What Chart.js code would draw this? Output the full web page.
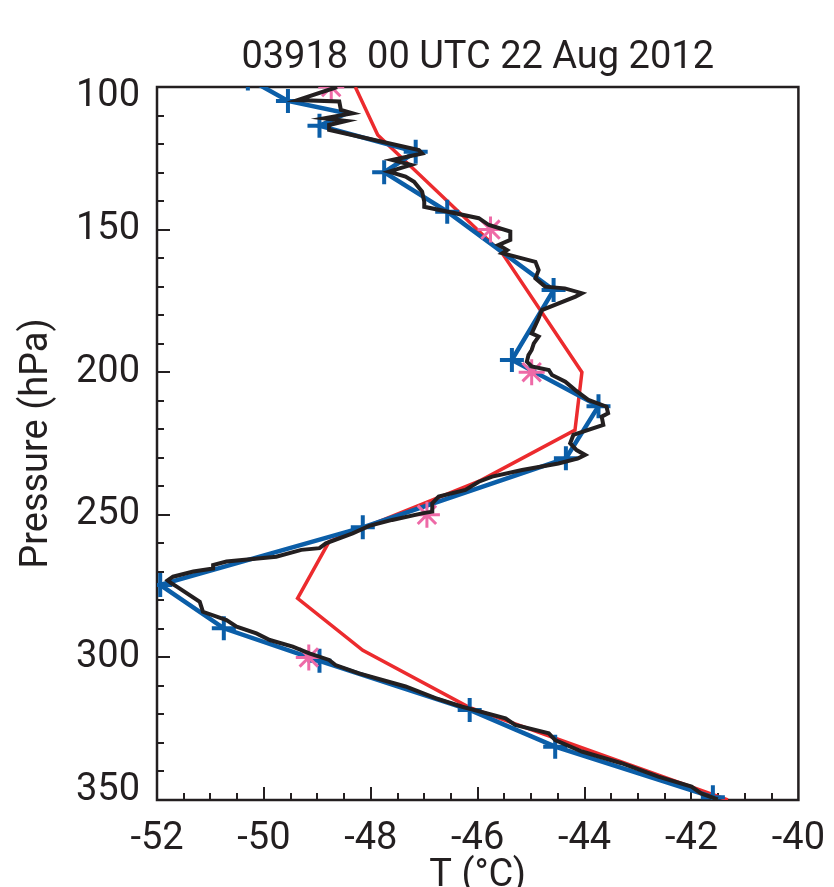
<!DOCTYPE html>
<html><head><meta charset="utf-8">
<script src="https://cdn.jsdelivr.net/npm/chart.js@4.4.0/dist/chart.umd.min.js"></script>
<style>html,body{margin:0;padding:0;background:#fff;overflow:hidden}canvas{display:block}</style>
</head><body>
<canvas id="c" width="834" height="887"></canvas>
<script>
const titleText = '03918  00 UTC 22 Aug 2012';
const xTitle = 'T (°C)';
const yTitle = 'Pressure (hPa)';
const xTicks = [-52, -50, -48, -46, -44, -42, -40];
const yTicks = [100, 150, 200, 250, 300, 350];

// high-resolution observed sounding (black)
const obsP = [100,104.6,105.1,108,109.2,111,111.9,113.3,115,122.1,123.3,125.6,127.3,129.7,131.4,133.2,136.7,140.2,142,146,148.4,150.7,153.6,155.4,157.2,158.3,161.3,164.2,167.1,170,170.6,172.3,173.5,178.2,181.1,186.4,187.5,189.9,192.2,194,196.3,198,199.2,201,203.3,206.2,209.7,212.1,214.4,215.6,218.5,222,224.9,227.3,229,230.2,232,234.3,236.6,238.4,241.3,243.6,246,248.9,249.5,251.8,253.9,256.5,260,261.7,262.3,264.7,266.4,267.6,268.8,269.9,271.7,273,274,275.2,280.5,284,286.9,289.2,291.6,293.9,296.2,298.6,300.9,302.7,305.6,310.2,314.3,317.3,321.4,323.7,326.6,329,333,337.1,341.8,345.3,347.7,349.8];
const obsT = [-48.63,-49.37,-48.59,-48.56,-48.34,-48.87,-48.46,-48.78,-48.78,-47.10,-47.04,-47.60,-47.25,-47.66,-47.35,-47.19,-47.04,-47.00,-47.0,-45.98,-45.79,-45.39,-45.39,-45.61,-45.45,-45.54,-44.92,-44.86,-44.92,-44.74,-44.37,-44.05,-44.17,-44.80,-44.86,-44.99,-44.86,-44.95,-44.99,-45.05,-45.08,-44.99,-44.67,-44.61,-44.36,-44.18,-43.93,-43.59,-43.56,-43.68,-43.65,-44.21,-44.27,-44.15,-43.99,-44.12,-44.49,-45.17,-45.73,-45.98,-46.23,-46.73,-46.85,-46.85,-47.04,-47.60,-48.03,-48.34,-48.84,-48.96,-49.3,-49.77,-50.70,-50.95,-50.95,-51.32,-51.70,-51.80,-51.73,-51.63,-51.20,-51.14,-50.70,-50.51,-50.14,-49.89,-49.46,-49.15,-48.78,-48.66,-48.22,-47.35,-46.79,-46.29,-45.48,-45.30,-44.67,-44.55,-44.05,-43.31,-42.62,-42.00,-41.82,-41.51];

// significant levels (blue +)
const sigP = [97,104.9,109.2,113.6,122.7,129.9,143.7,171.2,195.7,211.9,230.2,254.4,274.6,289.8,301.2,318.4,331.3,349];
const sigT = [-50.3,-49.55,-48.45,-48.96,-47.16,-47.75,-46.57,-44.58,-45.36,-43.74,-44.35,-48.15,-51.94,-50.75,-48.96,-46.15,-44.55,-41.6];
const sigUnmarked = [2];

// standard levels (pink *)
const stdP = [100, 150, 200, 250, 300];
const stdT = [-48.74, -45.76, -44.99, -46.95, -49.16];

// model profile (red)
const modP = [100,116.8,158.3,200,220.3,238,259.4,279.3,297.5,317.5,350];
const modT = [-48.29,-47.87,-45.54,-44.05,-44.18,-45.95,-48.78,-49.37,-48.15,-46.16,-41.32];

const pts = (P, T) => P.map((p, i) => ({x: T[i], y: p}));
const INK = '#231F20';
const FONT = 'Roboto';

const frameTicks = {
  id: 'frameTicks',
  beforeDatasetsDraw(chart) {
    const {ctx, chartArea: a, scales: {x, y}} = chart;
    ctx.save();
    ctx.strokeStyle = INK;
    ctx.lineWidth = 2;
    ctx.beginPath();
    for (let v = -51.5; v < -40; v += 0.5) {
      const px = Math.round(x.getPixelForValue(v));
      const len = (Math.abs(v % 2) < 1e-6) ? 13 : 7;
      ctx.moveTo(px, a.bottom); ctx.lineTo(px, a.bottom - len);
    }
    for (let v = 110; v < 350; v += 10) {
      const py = Math.round(y.getPixelForValue(v));
      const len = (v % 50 === 0) ? 13 : 7;
      ctx.moveTo(a.left, py); ctx.lineTo(a.left + len, py);
    }
    ctx.stroke();
    ctx.lineWidth = 2.5;
    ctx.strokeRect(a.left, a.top, a.right - a.left, a.bottom - a.top);
    ctx.restore();
  }
};

new Chart(document.getElementById('c'), {
  type: 'scatter',
  data: {
    datasets: [
      {label: 'obs', data: pts(obsP, obsT), showLine: true, borderColor: INK, borderWidth: 4, pointRadius: 0, tension: 0, clip: 0, borderJoinStyle: 'miter'},
      {label: 'std', data: pts(stdP, stdT), showLine: false, pointStyle: 'star', pointRadius: 13, borderColor: '#EE6AA7', pointBorderColor: '#EE6AA7', pointBorderWidth: 3, clip: 0},
      {label: 'sig', data: pts(sigP, sigT), showLine: true, borderColor: '#0B5EA8', borderWidth: 4.5, pointStyle: 'cross',
        pointRadius: c => sigUnmarked.includes(c.dataIndex) ? 0 : 12, pointBorderColor: '#0B5EA8', pointBorderWidth: 4, tension: 0, clip: 0},
      {label: 'model', data: pts(modP, modT), showLine: true, borderColor: '#EC2B2E', borderWidth: 3.5, pointRadius: 0, tension: 0, clip: 0}
    ]
  },
  options: {
    responsive: false,
    animation: false,
    events: [],
    layout: {padding: {left: 0, right: 34, top: 0, bottom: 0}},
    plugins: {
      legend: {display: false},
      tooltip: {enabled: false},
      title: {display: true, text: titleText, color: INK, fullSize: false,
        font: {family: FONT, size: 38, weight: 'normal', lineHeight: 1.2}, padding: {top: 36, bottom: 5.4}}
    },
    scales: {
      x: {
        type: 'linear', position: 'bottom', min: -52, max: -40,
        afterFit: s => { s.height = 87; },
        afterBuildTicks: s => { s.ticks = xTicks.map(v => ({value: v})); },
        grid: {display: false}, border: {display: false},
        ticks: {autoSkip: false, maxRotation: 0, color: INK, padding: 9,
          font: {family: FONT, size: 38}, callback: v => String(v)},
        title: {display: true, text: xTitle, color: INK, font: {family: FONT, size: 38}, padding: {top: 0, bottom: -12}}
      },
      y: {
        type: 'linear', position: 'left', min: 100, max: 350, reverse: true,
        afterFit: s => { s.width = 157; },
        afterBuildTicks: s => { s.ticks = yTicks.map(v => ({value: v})); },
        grid: {display: false}, border: {display: false},
        ticks: {autoSkip: false, color: INK, padding: 9,
          font: {family: FONT, size: 38, lineHeight: 0.52},
          callback: v => v === 100 ? ['', String(v)] : (v === 350 ? [String(v), ''] : String(v))},
        title: {display: true, text: yTitle, color: INK, font: {family: FONT, size: 38}, padding: {top: 15, bottom: 0}}
      }
    }
  },
  plugins: [frameTicks]
});
</script>
</body></html>
